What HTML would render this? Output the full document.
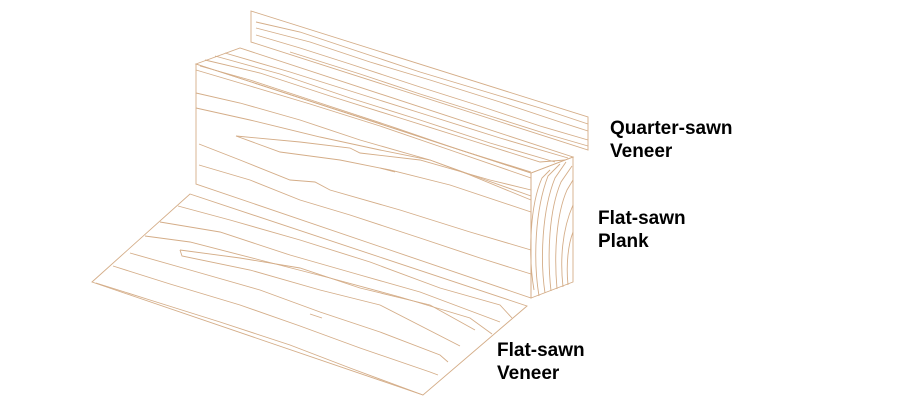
<!DOCTYPE html>
<html><head><meta charset="utf-8"><style>
html,body{margin:0;padding:0;background:#fff;}
svg{display:block}
text{font-family:"Liberation Sans",Arial,sans-serif;font-weight:bold;font-size:19px;fill:#000}
</style></head><body>
<svg width="900" height="400" viewBox="0 0 900 400" xmlns="http://www.w3.org/2000/svg">
<g fill="none" stroke="#d4ad88" stroke-width="0.9">
<!-- quarter-sawn veneer -->
<polygon points="251,11 588,117 588,150 251,42"/>
<path d="M256,22 L300,32 L360,52 L420,72 L480,90 L540,108 L588,124"/>
<path d="M256,28 L310,42 L370,62 L430,80 L500,102 L560,122 L588,131"/>
<path d="M256,35 L300,48 L350,64 L420,87 L480,106 L540,126 L588,140"/>
<path d="M290,52 L360,74 L420,94 L490,116 L550,135 L588,146"/>
<!-- plank top -->
<polygon points="196,64 240,48 573,157 531,173"/>
<path d="M205,60 L260,73 L330,96 L400,118 L470,140 L540,162 L565,160"/>
<path d="M215,56 L280,74 L350,98 L420,120 L490,143 L555,162"/>
<path d="M225,53 L290,72 L360,94 L430,116 L500,138 L568,158"/>
<path d="M200,66 L250,80 L320,103 L390,126 L460,150 L531,172"/>
<!-- plank front -->
<polygon points="196,64 531,173 531,298 196,184"/>
<path d="M196,70 L250,86 L310,104 L380,126 L450,150 L531,178"/>
<path d="M196,93 L240,103 L300,120 L360,140 L430,160 L480,178 L531,196"/>
<path d="M196,108 L250,120 L320,137 L380,150 L430,160 L470,175 L531,200"/>
<path d="M236,136 L300,142 L350,148 L360,153 L420,160 L490,180 L531,190"/>
<path d="M236,136 L280,152 L340,160 L390,170 L450,185 L531,212"/>
<path d="M199,144 L240,160 L290,180 L315,182 L330,190 L400,210 L470,232 L531,250"/>
<path d="M199,165 L250,180 L300,200 L350,215 L420,238 L480,258 L531,274"/>
<path d="M380,168 L395,172"/>
<!-- end grain -->
<polygon points="531,173 573,157 573,282 531,298"/>
<path d="M539,296 C533,260 535,210 548,176 L560,164"/>
<path d="M545,293 C540,260 542,210 555,178 L566,162"/>
<path d="M551,291 C547,255 549,210 561,182 L572,166"/>
<path d="M557,289 C554,255 556,215 567,190 L573,180"/>
<path d="M563,287 C560,260 562,230 573,205"/>
<path d="M568,285 C566,265 568,245 573,232"/>
<path d="M534,290 C528,255 530,205 542,178 L550,170"/>
<!-- flat-sawn veneer -->
<polygon points="190,194 527,306 423,395 92,282"/>
<path d="M178,206 L230,220 L300,240 L370,262 L440,288 L500,305 L512,318"/>
<path d="M160,222 L220,232 L290,255 L360,275 L420,292 L500,322"/>
<path d="M145,236 L190,242 L260,260 L330,278 L400,297 L470,318 L492,334"/>
<path d="M180,250 L240,258 L300,268 L360,288 L430,305 L475,330"/>
<path d="M180,250 L182,256 L250,270 L320,290 L380,305 L460,346"/>
<path d="M130,253 L190,270 L260,290 L320,312 L380,332 L440,355 L448,362"/>
<path d="M113,266 L170,284 L240,305 L300,326 L360,348 L430,372 L438,375"/>
<path d="M96,283 L150,300 L220,322 L290,345 L350,368 L423,395"/>
<path d="M310,314 L322,318"/>
</g>
<text x="610" y="134">Quarter-sawn</text>
<text x="610" y="157">Veneer</text>
<text x="598" y="224">Flat-sawn</text>
<text x="598" y="247">Plank</text>
<text x="497" y="356">Flat-sawn</text>
<text x="497" y="379">Veneer</text>
</svg>
</body></html>
